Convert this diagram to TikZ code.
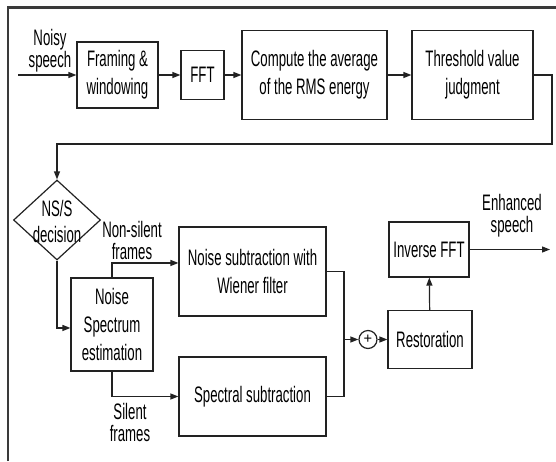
\documentclass[tikz,border=0pt]{standalone}
\usepackage{fontspec}
\setmainfont{Liberation Sans}[FakeStretch=0.59]
\newfontfamily\plusfont{Liberation Sans}
\usetikzlibrary{arrows.meta,shapes.geometric}
\definecolor{ln}{HTML}{222222}
\definecolor{fr}{HTML}{3A3A3A}
\tikzset{
  bx/.style 2 args={draw=ln, line width=0.9pt, minimum width=#1*0.75pt, minimum height=#2*0.75pt,
    inner sep=1pt, align=center, font=\fontsize{16.8}{21}\selectfont},
  lbl/.style={align=center, inner sep=0pt, font=\fontsize{16.8}{16.5}\selectfont},
  conn/.style={draw=ln, line width=0.9pt},
  arr/.style={conn, -{Triangle[length=6pt,width=4.5pt]}},
}
\begin{document}
\begin{tikzpicture}[x=0.75pt,y=-0.75pt]
\useasboundingbox (0,0) rectangle (556,461);
% frame
\draw[fr, line width=1.6pt] (8,461) -- (8,7.5) -- (556,7.5);
% top row
\coordinate (in) at (18,75);
\node[bx={81}{66}] (framing) at (117.5,75) {Framing \&\\windowing};
\node[bx={43}{49}] (fft) at (202.5,75) {FFT};
\node[bx={145}{89}] (compute) at (314.5,75) {Compute the average\\of the RMS energy};
\node[bx={121}{89}] (thresh) at (472.5,75) {Threshold value\\judgment};
\node[lbl] (noisy) at (50,51) {Noisy\\speech};
\coordinate (c1) at (552,144);
% decision
\node[diamond, draw=ln, line width=0.9pt, minimum width=87*0.75pt, minimum height=80*0.75pt, inner sep=0pt] (dec) at (57,220) {};
\node[lbl, font=\fontsize{16.8}{20}\selectfont] (dectxt) at (57,221.5) {NS/S\\decision};
% middle
\node[bx={82}{93}] (noise) at (112,324.5) {Noise\\Spectrum\\estimation};
\node[bx={147}{89}] (wiener) at (252.5,271.5) {Noise subtraction with\\Wiener filter};
\node[bx={147}{79}] (spectral) at (252.5,396.5) {Spectral subtraction};
\node[lbl, anchor=south] (nonsil) at (132,260) {Non-silent\\frames};
\node[lbl] (sil) at (130,422.5) {Silent\\frames};
\coordinate (jt) at (344,271.5);
\coordinate (jb) at (344,396.5);
\node[draw=ln, line width=0.9pt, circle, minimum size=18*0.75pt, inner sep=0pt, font=\plusfont\fontsize{11}{11}\selectfont] (sum) at (368,339.5) {+};
\node[bx={84}{58}] (resto) at (430,339.5) {Restoration};
\node[bx={80}{55}] (ifft) at (429,249.5) {Inverse FFT};
\node[lbl] (enh) at (512,216) {Enhanced\\speech};
\coordinate (out) at (550,249.5);
% connectors
\draw[arr] (in) -- (framing);
\draw[arr] (framing) -- (fft);
\draw[arr] (fft) -- (compute);
\draw[arr] (compute) -- (thresh);
\draw[arr] (thresh.east) -| (c1) -| (dec.north);
\draw[arr] (dec.south) |- ([yshift=-2.6pt]noise.west);
\draw[arr] (noise.north) |- ([yshift=6.4pt]wiener.west);
\draw[arr] (noise.south) |- (spectral.west);
\draw[conn] (wiener.east) -- (jt) -- (jb) -- (spectral.east);
\draw[arr] (jt |- sum) -- (sum);
\draw[arr] (sum) -- (resto);
\draw[arr] (resto) -- (ifft);
\draw[arr] (ifft) -- (out);
\end{tikzpicture}
\end{document}
